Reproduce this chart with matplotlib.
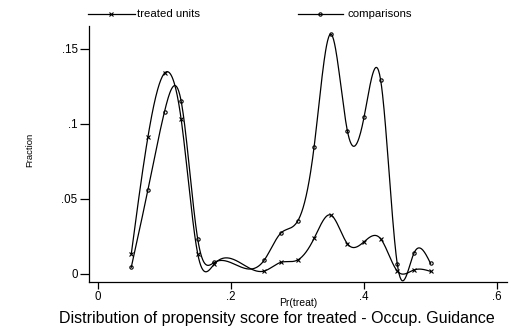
import numpy as np
import matplotlib
matplotlib.use("Agg")
import matplotlib.pyplot as plt
from matplotlib.lines import Line2D

# ---- data ----
treated_x = [0.05, 0.075, 0.10, 0.125, 0.15, 0.175, 0.25, 0.275, 0.30, 0.325,
             0.35, 0.375, 0.40, 0.425, 0.45, 0.475, 0.50]
treated_y = [0.0131, 0.0910, 0.1336, 0.1030, 0.0131, 0.0065, 0.0018, 0.0076, 0.0091, 0.0236,
             0.0391, 0.0200, 0.0213, 0.0233, 0.0018, 0.0025, 0.0016]

comp_x = [0.05, 0.075, 0.10, 0.125, 0.15, 0.175, 0.25, 0.275, 0.30, 0.325,
          0.35, 0.375, 0.40, 0.425, 0.45, 0.475, 0.50]
comp_y = [0.0043, 0.0558, 0.1080, 0.1150, 0.0229, 0.0076, 0.0091, 0.0271, 0.0349, 0.0847,
          0.1596, 0.0951, 0.1042, 0.1290, 0.0065, 0.0136, 0.0069]

x_ticks = [0, 0.2, 0.4, 0.6]
x_ticklabels = ["0", ".2", ".4", ".6"]
y_ticks = [0, 0.05, 0.10, 0.15]
y_ticklabels = ["0", ".05", ".1", ".15"]

labels = ["treated units", "comparisons"]
title = "Distribution of propensity score for treated - Occup. Guidance"
xlabel = "Pr(treat)"
ylabel = "Fraction"


def natural_spline(x, y, num=600):
    x = np.asarray(x, float)
    y = np.asarray(y, float)
    n = len(x)
    h = np.diff(x)
    A = np.zeros((n, n))
    b = np.zeros(n)
    A[0, 0] = 1.0
    A[-1, -1] = 1.0
    for i in range(1, n - 1):
        A[i, i - 1] = h[i - 1]
        A[i, i] = 2 * (h[i - 1] + h[i])
        A[i, i + 1] = h[i]
        b[i] = 6 * ((y[i + 1] - y[i]) / h[i] - (y[i] - y[i - 1]) / h[i - 1])
    M = np.linalg.solve(A, b)
    xs = np.linspace(x[0], x[-1], num)
    idx = np.clip(np.searchsorted(x, xs) - 1, 0, n - 2)
    x0, x1 = x[idx], x[idx + 1]
    y0, y1 = y[idx], y[idx + 1]
    M0, M1 = M[idx], M[idx + 1]
    hh = x1 - x0
    t1 = x1 - xs
    t0 = xs - x0
    ys = (M0 * t1 ** 3 + M1 * t0 ** 3) / (6 * hh) \
        + (y0 / hh - M0 * hh / 6) * t1 + (y1 / hh - M1 * hh / 6) * t0
    return xs, ys


plt.rcParams['font.family'] = ['Liberation Sans', 'DejaVu Sans']

W, H = 511, 336
fig = plt.figure(figsize=(W / 100, H / 100), dpi=100)
ax = fig.add_axes([88.7 / W, 1 - 282.3 / H, (507 - 88.7) / W, (282.3 - 26) / H])

lw = 0.9
xs, ys = natural_spline(treated_x, treated_y)
ax.plot(xs, ys, color='black', lw=lw)
ax.plot(treated_x, treated_y, 'x', color='black', ms=3.2, mew=0.8)

xs, ys = natural_spline(comp_x, comp_y)
ax.plot(xs, ys, color='black', lw=lw)
ax.plot(comp_x, comp_y, 'o', color='black', mfc='none', ms=2.4, mew=0.8)

ax.set_xlim(-0.014, 0.615)
ax.set_ylim(-0.0057, 0.165)
for s in ['top', 'right']:
    ax.spines[s].set_visible(False)
for s in ['left', 'bottom']:
    ax.spines[s].set_linewidth(0.9)
ax.set_xticks(x_ticks)
ax.set_xticklabels(x_ticklabels)
ax.set_yticks(y_ticks)
ax.set_yticklabels(y_ticklabels)
ax.tick_params(axis='both', direction='out', length=5, width=0.9, labelsize=8.3, pad=1.5)
ax.tick_params(axis='y', length=6.5)

fig.text(298 / W, 1 - 303 / H, xlabel, ha='center', va='center', fontsize=7.5)
fig.text(30 / W, 1 - 150 / H, ylabel, ha='center', va='center', fontsize=6.8, rotation=90)
fig.text(277 / W, 1 - 319 / H, title, ha='center', va='center', fontsize=11.5)

# legend
ly = 1 - 14 / H
fig.add_artist(Line2D([88 / W, 135 / W], [ly, ly], color='black', lw=lw))
fig.add_artist(Line2D([111 / W], [ly], marker='x', color='black', ms=3.2, mew=0.8))
fig.text(137 / W, ly, labels[0], ha='left', va='center', fontsize=8.2)
fig.add_artist(Line2D([298 / W, 343 / W], [ly, ly], color='black', lw=lw))
fig.add_artist(Line2D([320 / W], [ly], marker='o', color='black', mfc='none', ms=2.4, mew=0.8))
fig.text(347 / W, ly, labels[1], ha='left', va='center', fontsize=8.2)

fig.savefig("out.png", dpi=100)
